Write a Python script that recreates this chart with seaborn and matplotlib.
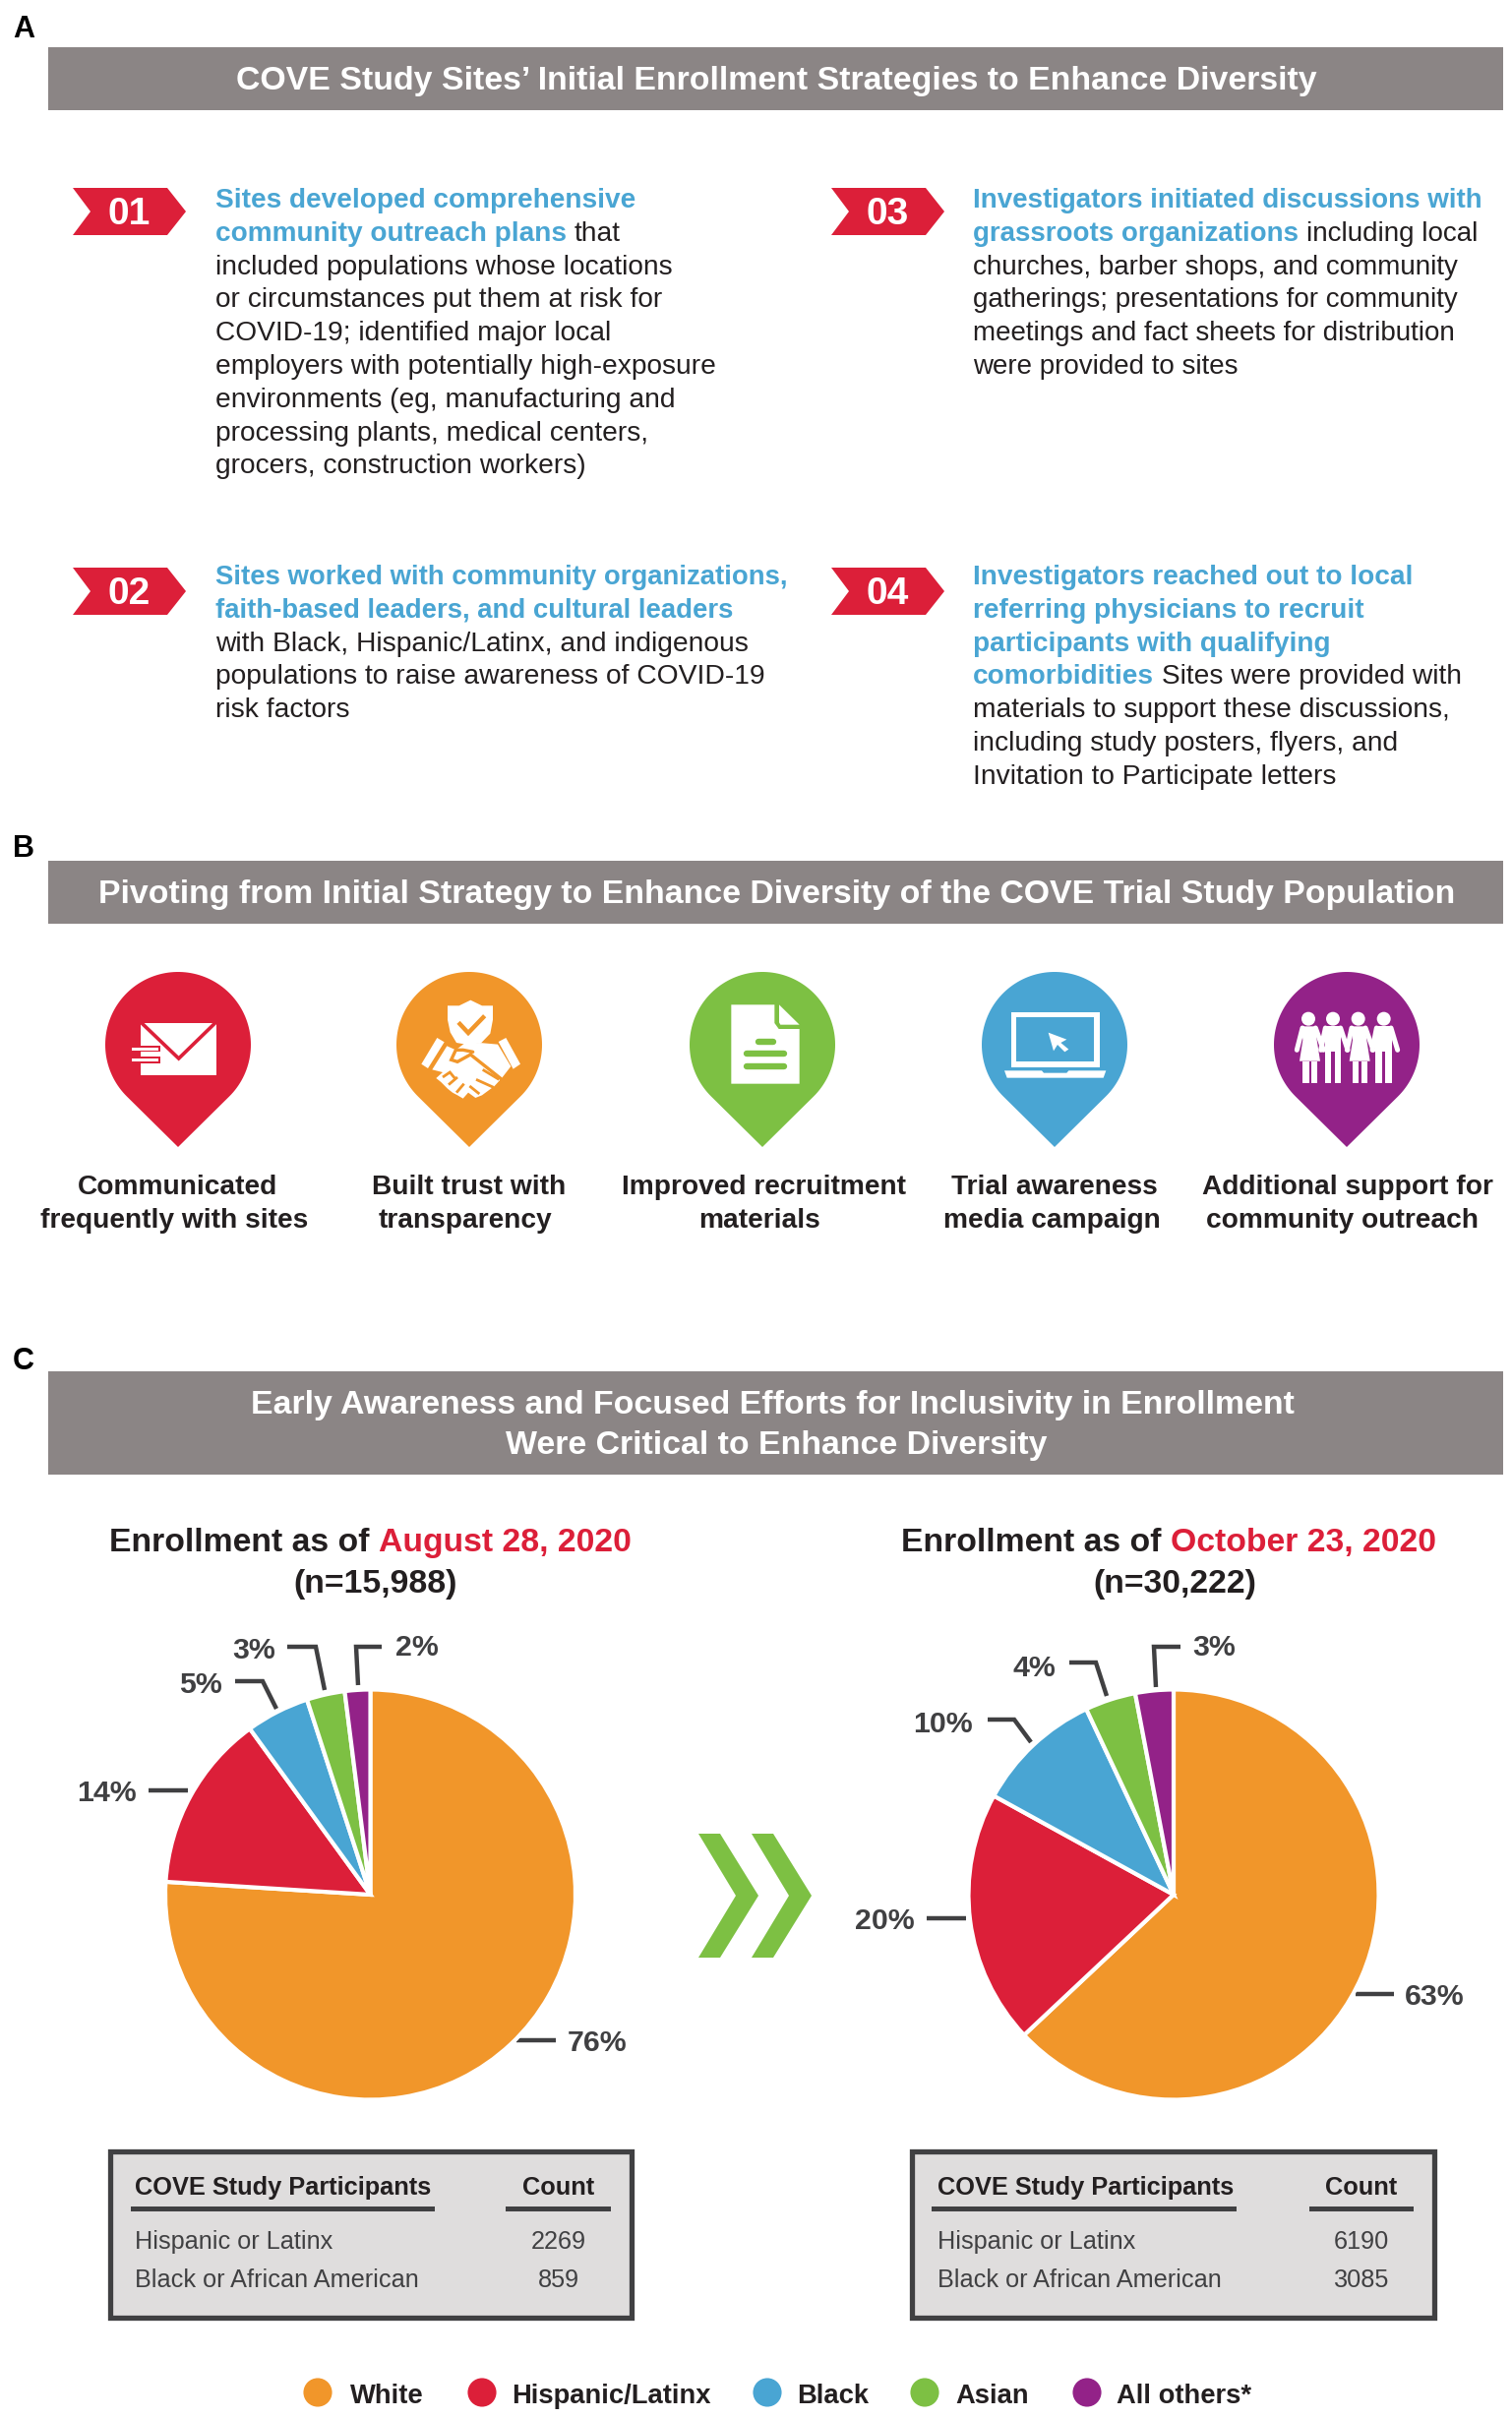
import numpy as np
import pandas as pd
import matplotlib
matplotlib.use("Agg")
import matplotlib.pyplot as plt
from matplotlib.patches import Polygon, Rectangle, Circle
import seaborn as sns

# ---------- data ----------
categories = ["White", "Hispanic/Latinx", "Black", "Asian", "All others*"]
aug_values = [76, 14, 5, 3, 2]
oct_values = [63, 20, 10, 4, 3]
aug_counts = [2269, 859]
oct_counts = [6190, 3085]
table_rows = ["Hispanic or Latinx", "Black or African American"]
pivot_labels = [("Communicated", "frequently with sites"),
                ("Built trust with", "transparency"),
                ("Improved recruitment", "materials"),
                ("Trial awareness", "media campaign"),
                ("Additional support for", "community outreach")]

sns.set_theme(style="white")
plt.rcParams["font.family"] = ["Liberation Sans", "DejaVu Sans"]

ORANGE, RED, BLUE, GREEN, PURPLE = "#F1962A", "#DC1F39", "#49A5D3", "#7DC043", "#932288"
palette = sns.color_palette([ORANGE, RED, BLUE, GREEN, PURPLE])
GREY, DARK, INK, BOX = "#8B8585", "#404042", "#231F20", "#DFDDDD"
W, H = 1537, 2458

fig = plt.figure(figsize=(W / 100, H / 100), dpi=100, facecolor="white")
bg = fig.add_axes([0, 0, 1, 1], zorder=0)
bg.axis("off")
renderer = fig.canvas.get_renderer()


def rect(x0, y0, x1, y1, color, z=1, **kw):
    bg.add_patch(Rectangle((x0, y0), x1 - x0, y1 - y0, facecolor=color, edgecolor="none", zorder=z, **kw))


def rich(x, y, segs, size_bold, size_reg=None):
    """Draw text pieces one after another on a single baseline."""
    size_reg = size_reg or size_bold
    for s, col, wt in segs:
        size = size_bold if wt == "bold" else size_reg
        t = bg.text(x, y, s, color=col, fontweight=wt, fontsize=size, va="baseline", ha="left", zorder=5)
        x += t.get_window_extent(renderer).width + size * 0.39


# ---------- section letters and banners ----------
for s, y in [("A", 38), ("B", 871), ("C", 1392)]:
    bg.text(13, y, s, fontsize=22, fontweight="bold", color="black", va="baseline")

BN = 24.4
rect(49, 48, 1528, 112, GREY)
bg.text(789, 91, "COVE Study Sites’ Initial Enrollment Strategies to Enhance Diversity",
        color="white", fontweight="bold", fontsize=BN, ha="center", va="baseline")
rect(49, 875, 1528, 939, GREY)
bg.text(790, 918, "Pivoting from Initial Strategy to Enhance Diversity of the COVE Trial Study Population",
        color="white", fontweight="bold", fontsize=BN, ha="center", va="baseline")
rect(49, 1394, 1528, 1499, GREY)
bg.text(785, 1437, "Early Awareness and Focused Efforts for Inclusivity in Enrollment",
        color="white", fontweight="bold", fontsize=BN, ha="center", va="baseline")
bg.text(789, 1478, "Were Critical to Enhance Diversity",
        color="white", fontweight="bold", fontsize=BN, ha="center", va="baseline")

# ---------- section A ----------
b, k = ("bold", "normal")
blocks = [
    ("01", 74, 191, 219, 211, 20.2, 20.25, [
        [("Sites developed comprehensive", BLUE, b)],
        [("community outreach plans", BLUE, b), ("that", INK, k)],
        [("included populations whose locations", INK, k)],
        [("or circumstances put them at risk for", INK, k)],
        [("COVID-19; identified major local", INK, k)],
        [("employers with potentially high-exposure", INK, k)],
        [("environments (eg, manufacturing and", INK, k)],
        [("processing plants, medical centers,", INK, k)],
        [("grocers, construction workers)", INK, k)]]),
    ("02", 74, 577, 219, 594, 19.8, 20.3, [
        [("Sites worked with community organizations,", BLUE, b)],
        [("faith-based leaders, and cultural leaders", BLUE, b)],
        [("with Black, Hispanic/Latinx, and indigenous", INK, k)],
        [("populations to raise awareness of COVID-19", INK, k)],
        [("risk factors", INK, k)]]),
    ("03", 845, 191, 989, 211, 20.0, 20.0, [
        [("Investigators initiated discussions with", BLUE, b)],
        [("grassroots organizations", BLUE, b), ("including local", INK, k)],
        [("churches, barber shops, and community", INK, k)],
        [("gatherings; presentations for community", INK, k)],
        [("meetings and fact sheets for distribution", INK, k)],
        [("were provided to sites", INK, k)]]),
    ("04", 845, 577, 989, 594, 20.2, 20.25, [
        [("Investigators reached out to local", BLUE, b)],
        [("referring physicians to recruit", BLUE, b)],
        [("participants with qualifying", BLUE, b)],
        [("comorbidities", BLUE, b), ("Sites were provided with", INK, k)],
        [("materials to support these discussions,", INK, k)],
        [("including study posters, flyers, and", INK, k)],
        [("Invitation to Participate letters", INK, k)]]),
]
for num, rx, ry, tx, ty, sb, sr, lines in blocks:
    bg.add_patch(Polygon([(rx, ry), (rx + 96, ry), (rx + 115, ry + 24), (rx + 96, ry + 48),
                          (rx, ry + 48), (rx + 18, ry + 24)], closed=True, facecolor=RED, edgecolor="none"))
    bg.text(rx + 57, ry + 37, num, color="white", fontweight="bold", fontsize=28,
            ha="center", va="baseline", zorder=5)
    for i, segs in enumerate(lines):
        rich(tx, ty + i * 33.8, segs, sb, sr)


# ---------- section B pins ----------
def pin(cx, color):
    r, cy, tip = 74, 1062, 1166
    d = tip - cy
    a = np.arccos(r / d)
    th = np.linspace(np.pi / 2 + a, 2 * np.pi + np.pi / 2 - a, 120)
    pts = np.c_[cx + r * np.cos(th), cy + r * np.sin(th)]
    pts = np.vstack([pts, [cx, tip]])
    bg.add_patch(Polygon(pts, closed=True, facecolor=color, edgecolor="none", zorder=2))


pin_x = [181, 477, 775, 1072, 1369]
for cx, col in zip(pin_x, [RED, ORANGE, GREEN, BLUE, PURPLE]):
    pin(cx, col)


def Z(ox, pts):
    return [(ox + x / 3, 980 + y / 3) for x, y in pts]


def poly(ox, pts, color="white", z=3):
    bg.add_patch(Polygon(Z(ox, pts), closed=True, facecolor=color, edgecolor="none", zorder=z))


def line(ox, pts, color, lw, z=4, cap="butt"):
    q = np.array(Z(ox, pts))
    bg.plot(q[:, 0], q[:, 1], color=color, lw=lw, zorder=z, solid_capstyle=cap, solid_joinstyle="miter")


# envelope
poly(100, [(130, 180), (360, 180), (360, 340), (130, 340)])
line(100, [(130, 178), (245, 288), (358, 178)], RED, 2.6)
poly(100, [(100, 250), (188, 250), (188, 268), (100, 268)], RED)
poly(100, [(100, 282), (188, 282), (188, 302), (100, 302)], RED)
poly(100, [(103, 255), (182, 255), (182, 264), (103, 264)])
poly(100, [(103, 287), (184, 287), (184, 298), (103, 298)])

# shield and handshake
poly(400, [(165, 127), (200, 127), (235, 110), (270, 127), (303, 127), (303, 170), (295, 212),
           (268, 240), (232, 247), (192, 240), (173, 208), (165, 170)])
line(400, [(198, 178), (228, 210), (278, 158)], ORANGE, 3.2)
poly(400, [(85, 305), (133, 225), (155, 238), (105, 318)])
poly(400, [(320, 237), (343, 225), (387, 305), (365, 320)])
poly(400, [(118, 322), (163, 250), (190, 262), (215, 243), (262, 240), (318, 245), (358, 312),
           (330, 348), (308, 372), (270, 400), (250, 408), (228, 392), (212, 410), (195, 400),
           (180, 392), (165, 380), (145, 360), (130, 348), (150, 330)])
line(400, [(242, 268), (212, 262), (190, 262), (176, 292), (195, 298), (235, 276), (328, 350)], ORANGE, 2.4, cap="round")
line(400, [(272, 322), (322, 352)], ORANGE, 2.0)
line(400, [(252, 352), (305, 376)], ORANGE, 2.0)
line(400, [(232, 372), (262, 396)], ORANGE, 2.0)
line(400, [(150, 345), (172, 330), (190, 352)], ORANGE, 2.0)
line(400, [(168, 368), (195, 345)], ORANGE, 2.0)
line(400, [(192, 392), (215, 365)], ORANGE, 2.0)

# document
poly(700, [(130, 124), (262, 124), (262, 180), (275, 198), (338, 198), (338, 365), (130, 365)])
poly(700, [(276, 124), (338, 185), (280, 185), (276, 178)])
line(700, [(212, 236), (258, 236)], GREEN, 4.6, cap="round")
line(700, [(178, 274), (292, 274)], GREEN, 4.6, cap="round")
line(700, [(178, 312), (292, 312)], GREEN, 4.6, cap="round")

# laptop
poly(995, [(98, 146), (368, 146), (368, 314), (98, 314)])
poly(995, [(114, 162), (352, 162), (352, 296), (114, 296)], BLUE)
poly(995, [(78, 325), (192, 325), (198, 332), (268, 332), (274, 325), (388, 325),
           (380, 347), (86, 347)])
poly(995, [(212, 209), (268, 230), (250, 240), (274, 260), (262, 268), (240, 246), (228, 265)])

# people
for hx, female in zip([120, 195, 272, 350], [True, False, True, False]):
    bg.add_patch(Circle(Z(1290, [(hx, 167)])[0], 7, facecolor="white", edgecolor="none", zorder=3))
    if female:
        poly(1290, [(hx - 22, 190), (hx + 22, 190), (hx + 26, 232), (hx + 36, 296), (hx - 27, 296),
                    (hx - 17, 232)])
        poly(1290, [(hx - 17, 296), (hx + 2, 296), (hx + 2, 364), (hx - 17, 364)])
        poly(1290, [(hx + 9, 296), (hx + 28, 296), (hx + 28, 364), (hx + 9, 364)])
    else:
        poly(1290, [(hx - 25, 190), (hx + 25, 190), (hx + 25, 364), (hx + 5, 364), (hx + 5, 268),
                    (hx - 5, 268), (hx - 5, 364), (hx - 25, 364)])
line(1290, [(102, 195), (85, 262)], "white", 3.6, cap="round")
line(1290, [(142, 195), (166, 262)], "white", 3.6, cap="round")
line(1290, [(172, 195), (158, 262)], "white", 3.6, cap="round")
line(1290, [(218, 195), (240, 262)], "white", 3.6, cap="round")
line(1290, [(252, 195), (238, 262)], "white", 3.6, cap="round")
line(1290, [(294, 195), (318, 262)], "white", 3.6, cap="round")
line(1290, [(328, 195), (315, 262)], "white", 3.6, cap="round")
line(1290, [(372, 195), (392, 262)], "white", 3.6, cap="round")

label_x = [(181, 177), (477, 473), (776, 772), (1072, 1069), (1370, 1365)]
for (a, c), (x1, x2) in zip(pivot_labels, label_x):
    bg.text(x1, 1214, a, fontweight="bold", fontsize=20.25, ha="center", va="baseline", color=INK)
    bg.text(x2, 1248, c, fontweight="bold", fontsize=20.25, ha="center", va="baseline", color=INK)

# ---------- section C titles ----------
TS = 24.3
rich(111, 1577, [("Enrollment as of", INK, b), ("August 28, 2020", RED, b)], TS)
rich(916, 1577, [("Enrollment as of", INK, b), ("October 23, 2020", RED, b)], TS)
bg.text(382, 1619, "(n=15,988)", fontweight="bold", fontsize=TS, ha="center", va="baseline", color=INK)
bg.text(1194, 1619, "(n=30,222)", fontweight="bold", fontsize=TS, ha="center", va="baseline", color=INK)


# ---------- pies ----------
def draw_pie(cx, cy, r, values):
    ax = fig.add_axes([(cx - r) / W, 1 - (cy + r) / H, 2 * r / W, 2 * r / H], zorder=2)
    ax.pie(values, colors=palette, startangle=90, counterclock=False, radius=1,
           wedgeprops=dict(edgecolor="white", linewidth=3))
    ax.set_xlim(-1, 1)
    ax.set_ylim(-1, 1)
    ax.axis("off")


draw_pie(376.5, 1926, 208.5, aug_values)
draw_pie(1193, 1926, 208.5, oct_values)

leaders = [
    ([(525, 2074), (565, 2074)], 607, 2074),
    ([(191, 1820), (151, 1820)], 108, 1820),
    ([(281, 1737), (267, 1709), (239, 1709)], 204, 1710),
    ([(330, 1718), (321, 1674), (292, 1674)], 258, 1675),
    ([(364, 1713), (362, 1674), (388, 1674)], 424, 1672),
]
leaders2 = [
    ([(1378, 2027), (1417, 2027)], 1458, 2027),
    ([(982, 1950), (942, 1950)], 899, 1950),
    ([(1048, 1771), (1031, 1748), (1004, 1748)], 958, 1750),
    ([(1125, 1724), (1114, 1690), (1087, 1690)], 1051, 1693),
    ([(1175, 1715), (1173, 1674), (1200, 1674)], 1234, 1672),
]
for vals, lds in [(aug_values, leaders), (oct_values, leaders2)]:
    for v, (pts, tx, ty) in zip(vals, lds):
        q = np.array(pts)
        bg.plot(q[:, 0], q[:, 1], color=DARK, lw=3.2, solid_joinstyle="miter", solid_capstyle="butt", zorder=3)
        bg.text(tx, ty, f"{v}%", color=DARK, fontweight="bold", fontsize=21.8, ha="center", va="center_baseline", zorder=5)

# chevrons
for x0 in [710, 764]:
    bg.add_patch(Polygon([(x0, 1864), (x0 + 22, 1864), (x0 + 61, 1927), (x0 + 22, 1990), (x0, 1990), (x0 + 38, 1927)],
                         closed=True, facecolor=GREEN, edgecolor="none"))


# ---------- tables ----------
def table(x0, x1, tx, u0, u1, c0, c1, counts):
    bg.add_patch(Rectangle((x0 + 2.5, 2186.5), x1 - x0 - 5, 169, facecolor=BOX, edgecolor=DARK, linewidth=3.8, zorder=1))
    rect(u0, 2243, u1, 2248, DARK, z=2)
    rect(c0, 2243, c1, 2248, DARK, z=2)
    bg.text(tx, 2231, "COVE Study Participants", fontweight="bold", fontsize=18.25, color=INK, va="baseline", zorder=5)
    bg.text((c0 + c1) / 2, 2231, "Count", fontweight="bold", fontsize=18.25, color=INK, ha="center", va="baseline", zorder=5)
    for y, row, n in zip([2286, 2325], table_rows, counts):
        bg.text(tx, y, row, fontsize=18.2, color=DARK, va="baseline", zorder=5)
        bg.text((c0 + c1) / 2, y, str(n), fontsize=18.2, color=DARK, ha="center", va="baseline", zorder=5)


table(109, 644, 137, 133, 442, 514, 621, aug_counts)
table(924, 1460, 953, 947, 1257, 1331, 1437, oct_counts)

# ---------- legend ----------
legend = pd.DataFrame({"cat": categories, "x": [323, 490, 780, 940, 1105], "y": [2432] * 5})
sns.scatterplot(data=legend, x="x", y="y", hue="cat", palette=palette, s=440, linewidth=0,
                legend=False, ax=bg, zorder=3, clip_on=False)
for c, x in zip(categories, [356, 520, 810, 971, 1135]):
    bg.text(x, 2443, c, fontweight="bold", fontsize=19.7, color=INK, va="baseline")

bg.set_xlim(0, W)
bg.set_ylim(H, 0)
bg.axis("off")
fig.savefig("out.png", dpi=100, facecolor="white")
